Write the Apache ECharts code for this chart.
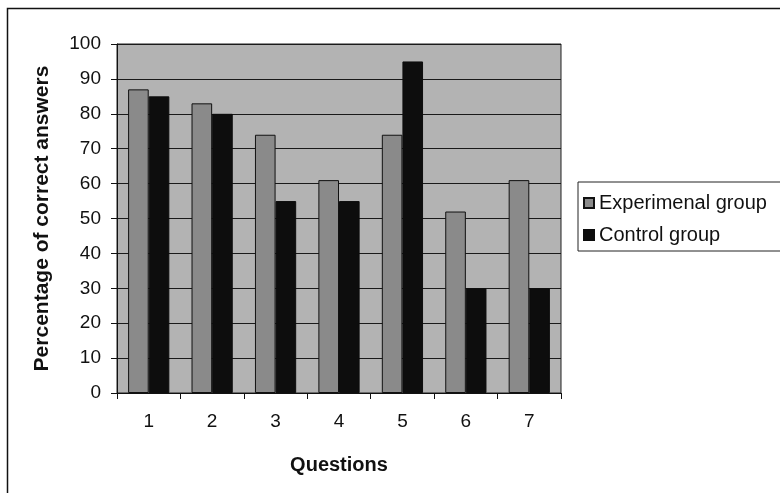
<!DOCTYPE html>
<html><head><meta charset="utf-8">
<script src="https://cdn.jsdelivr.net/npm/echarts@6/dist/echarts.min.js"></script>
<style>html,body{margin:0;padding:0;background:#fff}#c{width:780px;height:493px}</style>
</head><body><div id="c"></div>
<script>
const categories = ['1','2','3','4','5','6','7'];
const experimental = [87, 83, 74, 61, 74, 52, 61];
const control = [85, 80, 55, 55, 95, 30, 30];
const yTicks = [0,10,20,30,40,50,60,70,80,90,100];

const chart = echarts.init(document.getElementById('c'));
const font = '"Liberation Sans", Arial, sans-serif';
chart.setOption({
  animation: false,
  textStyle: {fontFamily: font},
  graphic: [
    {type:'rect', shape:{x:7.5,y:8.5,width:790,height:500}, style:{fill:'none',stroke:'#111',lineWidth:1.5}, z:-1}
  ],
  grid: {left:117, top:44, width:444, height:349, show:true, backgroundColor:'#b3b3b3', borderColor:'#222', borderWidth:1},
  legend: {
    orient:'vertical', left:578, top:182, padding:[11,40,6,5], itemGap:12,
    borderColor:'#222', borderWidth:1, itemWidth:10, itemHeight:10, icon:'rect',
    textStyle:{fontSize:20, color:'#111', fontFamily:font},
    data:['Experimenal group','Control group']
  },
  xAxis: {
    type:'category', data:categories,
    name:'Questions', nameLocation:'middle', nameGap:62,
    nameTextStyle:{fontSize:20, fontWeight:'bold', color:'#111'},
    axisLine:{lineStyle:{color:'#111'}},
    axisTick:{show:true, alignWithLabel:false, length:6, lineStyle:{color:'#111'}},
    axisLabel:{fontSize:19, color:'#111', margin:19}
  },
  yAxis: {
    type:'value', min:0, max:100, interval:10,
    name:'Percentage of correct answers', nameLocation:'middle', nameGap:64,
    nameTextStyle:{fontSize:21, fontWeight:'bold', color:'#111'},
    axisLine:{show:true, lineStyle:{color:'#111'}},
    axisTick:{show:true, length:6, lineStyle:{color:'#111'}},
    axisLabel:{fontSize:19, color:'#111', margin:16},
    splitLine:{show:true, lineStyle:{color:'#1a1a1a', width:1}}
  },
  series: [
    {name:'Experimenal group', type:'bar', data:experimental, barGap:'0%', barCategoryGap:'35%',
     itemStyle:{color:'#8a8a8a', borderColor:'#111', borderWidth:1}},
    {name:'Control group', type:'bar', data:control,
     itemStyle:{color:'#0d0d0d', borderColor:'#0d0d0d', borderWidth:1}}
  ]
});
</script></body></html>
